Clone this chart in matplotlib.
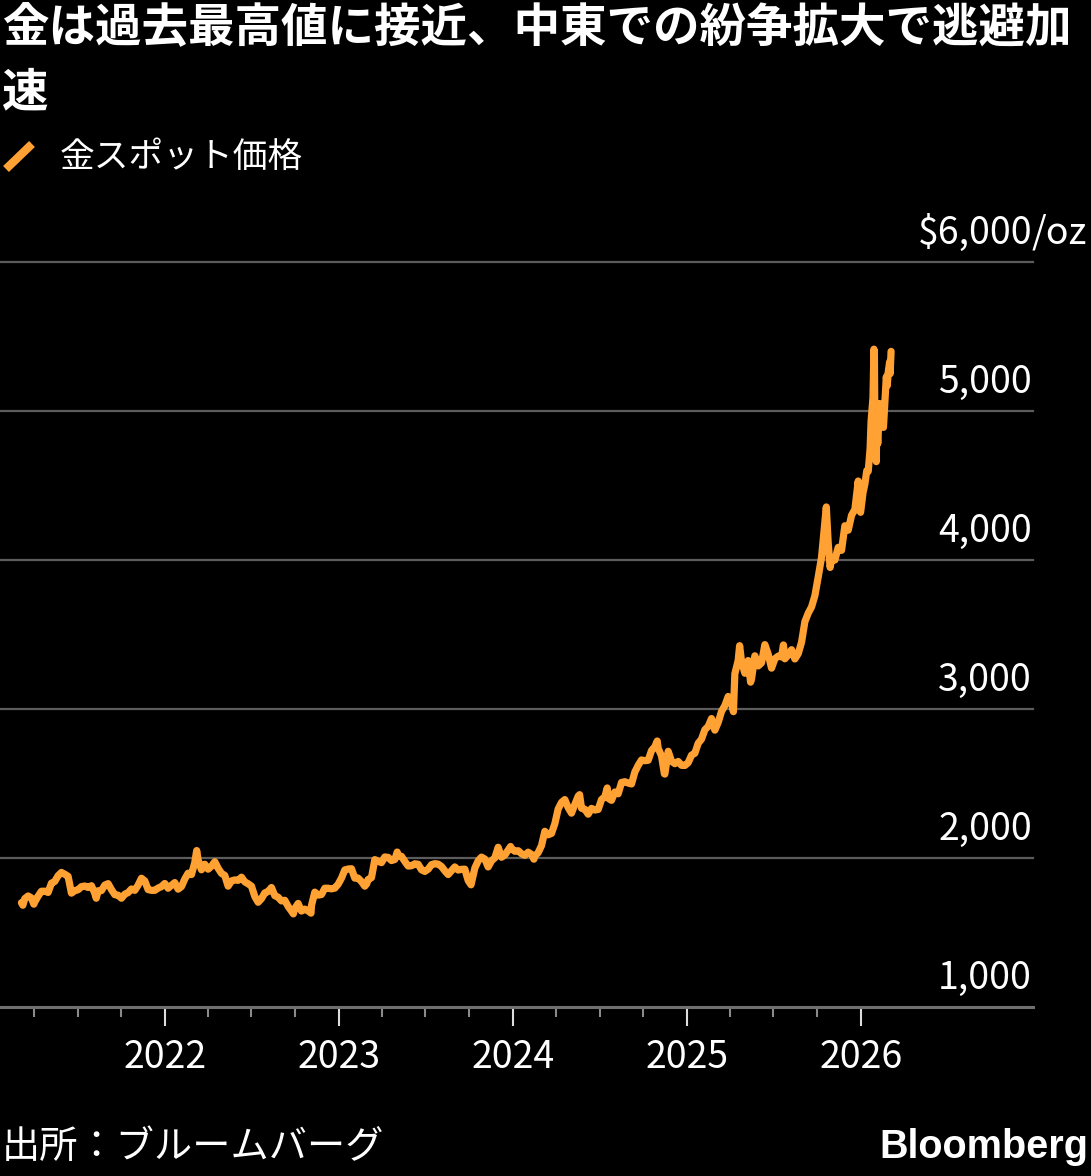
import matplotlib
matplotlib.use('Agg')
import matplotlib.pyplot as plt
import matplotlib.dates as mdates
import pandas as pd
from matplotlib.lines import Line2D
from matplotlib import transforms

plt.rcParams['font.family'] = ['Noto Sans CJK JP', 'DejaVu Sans']

# ---------------- data (gold spot, USD/oz) ----------------
title_line1 = "金は過去最高値に接近、中東での紛争拡大で逃避加"
title_line2 = "速"
legend_label = "金スポット価格"
source_text = "出所：ブルームバーグ"

# weekly (Friday) values
gold_2021 = [1700, 1727, 1745, 1732,
             1705, 1744, 1777, 1777, 1769,
             1831, 1843, 1881, 1903,
             1891, 1877, 1764, 1781,
             1787, 1808, 1812, 1802, 1814,
             1763, 1780, 1781, 1818,
             1828, 1788, 1754, 1750,
             1730, 1757, 1768, 1792, 1783,
             1818, 1864, 1846, 1788,
             1783, 1783, 1798, 1808, 1829]
gold_2022 = [1797, 1817, 1835, 1791,
             1808, 1859, 1898, 1889,
             1970, 1988, 1921, 1958,
             1925, 1945, 1975, 1931, 1897,
             1883, 1811, 1846, 1853,
             1850, 1871, 1840, 1827,
             1811, 1742, 1703, 1727, 1766,
             1775, 1802, 1747, 1737,
             1712, 1716, 1675, 1644, 1661,
             1695, 1644, 1657, 1645,
             1681, 1771, 1751, 1755,
             1797, 1797, 1793, 1798, 1824]
gold_2023 = [1865, 1920, 1926, 1928,
             1865, 1865, 1842, 1811,
             1856, 1868, 1989, 1978, 1969,
             2007, 2004, 1983, 1990,
             2017, 2011, 1977, 1946,
             1948, 1961, 1958, 1921, 1910,
             1925, 1955, 1962, 1959,
             1943, 1914, 1889, 1915,
             1940, 1919, 1924, 1925, 1849,
             1833, 1932, 1981, 2006,
             1993, 1940, 1981, 2001,
             2072, 2005, 2020, 2053, 2063]
gold_2024 = [2045, 2049, 2029, 2018,
             2039, 2024, 2013, 2036,
             2083, 2179, 2156, 2165, 2230,
             2329, 2344, 2392, 2338,
             2301, 2360, 2415, 2334, 2327,
             2294, 2333, 2322, 2326,
             2392, 2411, 2401, 2387,
             2443, 2431, 2507, 2512, 2503,
             2497, 2577, 2622, 2658,
             2653, 2656, 2721, 2747,
             2736, 2685, 2563, 2716, 2650,
             2633, 2648, 2622, 2621]
gold_2025 = [2640, 2690, 2703, 2770, 2798,
             2861, 2883, 2936, 2858,
             2910, 2984, 3023, 3084,
             3037, 3237, 3327, 3319,
             3240, 3325, 3202, 3357, 3289,
             3310, 3432, 3368, 3274,
             3337, 3355, 3350, 3337,
             3363, 3398, 3336, 3371, 3448,
             3586, 3643, 3685, 3760,
             3886, 4018, 4250, 4113, 4002,
             4000, 4085, 4065, 4230,
             4200, 4300, 4340, 4530]

# intra-week closes that stand out in the chart
extra_dates = ['2021-03-08', '2021-03-31', '2021-08-09', '2022-03-08', '2022-09-27',
               '2022-11-03', '2023-02-28', '2023-05-03', '2023-10-05', '2023-12-27',
               '2024-02-14', '2024-04-12', '2024-05-20', '2024-07-17', '2024-10-30',
               '2024-11-14', '2025-04-08', '2025-04-21', '2025-05-14', '2025-07-22',
               '2025-10-20', '2025-10-28']
extra_values = [1683, 1690, 1730, 2050, 1625,
                1630, 1827, 2040, 1820, 2077,
                1992, 2373, 2425, 2470, 2785,
                2565, 2982, 3425, 3180, 3430,
                4356, 3950]

dates_2026 = ['2025-12-29', '2025-12-31', '2026-01-05', '2026-01-09', '2026-01-13',
              '2026-01-16', '2026-01-20', '2026-01-22', '2026-01-26', '2026-01-28',
              '2026-01-29', '2026-01-30', '2026-02-02', '2026-02-03', '2026-02-05',
              '2026-02-09', '2026-02-12', '2026-02-17', '2026-02-19', '2026-02-23',
              '2026-02-25', '2026-02-27', '2026-03-02', '2026-03-03', '2026-03-05']
gold_2026 = [4330, 4320, 4450, 4510, 4600,
             4595, 4750, 4930, 5090, 5415,
             5390, 4890, 4660, 4940, 4780,
             5050, 4920, 4890, 5000, 5230,
             5170, 5260, 5330, 5250, 5400]

y_ticks = [1000, 2000, 3000, 4000, 5000, 6000]
year_ticks = [2022, 2023, 2024, 2025, 2026]

# ---------------- build series ----------------
def weekly(start, vals):
    return pd.Series(vals, index=pd.date_range(start, periods=len(vals), freq='W-FRI'))

series = pd.concat([
    weekly('2021-03-05', gold_2021),
    weekly('2022-01-07', gold_2022),
    weekly('2023-01-06', gold_2023),
    weekly('2024-01-05', gold_2024),
    weekly('2025-01-03', gold_2025),
    pd.Series(extra_values, index=pd.to_datetime(extra_dates)),
    pd.Series(gold_2026, index=pd.to_datetime(dates_2026)),
])
series = series[~series.index.duplicated(keep='last')].sort_index()

# ---------------- figure ----------------
W, H = 1091, 1176
BG = '#000000'
ORANGE = '#FFA133'
GRID = '#5c5c5c'

fig = plt.figure(figsize=(W / 100, H / 100), dpi=100, facecolor=BG)
ax = fig.add_axes([0, 1 - 1007 / H, 1033 / W, (1007 - 262) / H])
ax.set_facecolor(BG)

for v in y_ticks[1:]:
    ax.axhline(v, color=GRID, lw=1.6, zorder=1, clip_on=False)

ax.plot(series.index, series.values, color=ORANGE, lw=5.2,
        solid_joinstyle='round', solid_capstyle='round', zorder=3)

ax.set_ylim(1000, 6000)
ax.set_xlim(mdates.datestr2num('2021-01-19'), mdates.datestr2num('2026-12-28'))

for s in ['top', 'left', 'right']:
    ax.spines[s].set_visible(False)
ax.spines['bottom'].set_color('#707070')
ax.spines['bottom'].set_linewidth(2.2)
ax.spines['bottom'].set_zorder(2)

ax.set_yticks([])
major = [mdates.datestr2num(f'{y}-01-01') for y in year_ticks]
minor = [mdates.datestr2num(f'{y}-{m:02d}-01') for y in range(2021, 2026) for m in (4, 7, 10)]
ax.set_xticks(major)
ax.set_xticklabels([str(y) for y in year_ticks])
ax.set_xticks(minor, minor=True)
ax.tick_params(axis='x', which='major', length=14, width=1.5, color='#dddddd',
               labelsize=27, labelcolor='white', pad=8, direction='out')
ax.tick_params(axis='x', which='minor', length=7, width=1.5, color='#8a8a8a', direction='out')

# y labels above gridlines, right aligned
trans = transforms.blended_transform_factory(ax.transAxes, ax.transData)
trans = transforms.offset_copy(trans, fig=fig, x=-1, y=18, units='dots')
for v in y_ticks:
    lab = f'{v:,}'
    if v == 6000:
        lab = '$' + lab
    ax.text(1.0, v, lab, transform=trans, ha='right', va='baseline',
            fontsize=27, color='white')
ax.text(1.0, 6000, '/oz', transform=trans, ha='left', va='baseline',
        fontsize=27, color='white')

# title
fig.text(2 / W, 1 - 28 / H, title_line1, ha='left', va='center', fontsize=33.5,
         fontweight='bold', color='white')
fig.text(2 / W, 1 - 92 / H, title_line2, ha='left', va='center', fontsize=33.5,
         fontweight='bold', color='white')

# legend
fig.add_artist(Line2D([6 / W, 32 / W], [1 - 169 / H, 1 - 144 / H], color=ORANGE,
                      lw=6, solid_capstyle='butt', transform=fig.transFigure))
fig.text(60 / W, 1 - 157 / H, legend_label, ha='left', va='center', fontsize=25,
         color='white')

# footer
fig.text(2 / W, 1 - 1147 / H, source_text, ha='left', va='center', fontsize=27.5,
         color='white')
fig.text(1088 / W, 1 - 1147 / H, 'Bloomberg', ha='right', va='center', fontsize=28.5,
         fontweight='bold', color='white', family=['Liberation Sans', 'DejaVu Sans'])

fig.savefig('out.png', dpi=100, facecolor=BG)
